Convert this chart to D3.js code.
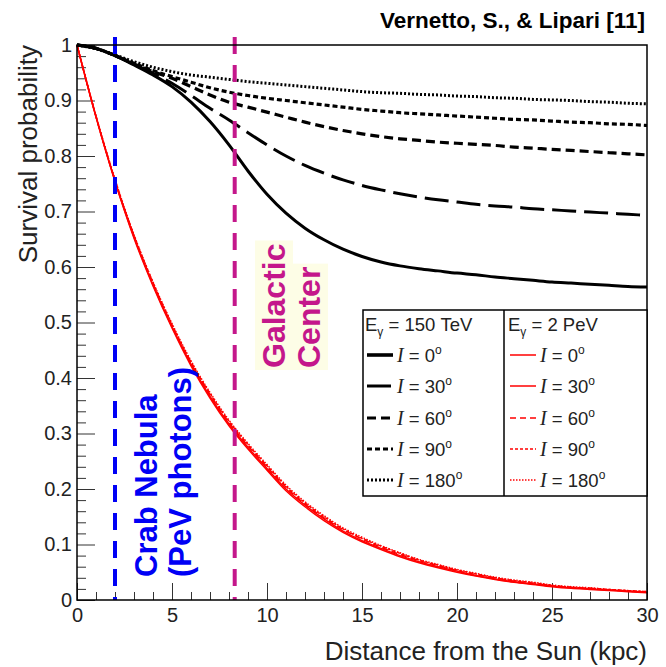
<!DOCTYPE html>
<html>
<head>
<meta charset="utf-8">
<script src="https://cdn.jsdelivr.net/npm/d3@7"></script>
<style>
  html, body { margin: 0; padding: 0; background: #fff; }
  svg { display: block; font-family: "Liberation Sans", Arial, Helvetica, sans-serif; }
</style>
</head>
<body>
<svg id="chart" width="666" height="667"></svg>
<script>
// ---- data ---------------------------------------------------------------
const distanceKpc = [0,1,2,3,4,5,6,7,8,9,10,11,12,13,14,15,16,17,18,19,20,21,22,23,24,25,26,27,28,29,30];

const inclinations = ["0", "30", "60", "90", "180"];

// Survival probability, E_gamma = 150 TeV
const surv150_I0   = [1.000,0.994,0.981,0.964,0.946,0.925,0.897,0.862,0.820,0.773,0.731,0.697,0.670,0.649,0.632,0.619,0.609,0.602,0.597,0.593,0.589,0.586,0.582,0.579,0.576,0.573,0.571,0.569,0.567,0.565,0.564];
const surv150_I30  = [1.000,0.994,0.981,0.965,0.949,0.931,0.909,0.886,0.865,0.842,0.820,0.800,0.783,0.769,0.757,0.747,0.739,0.732,0.726,0.721,0.717,0.713,0.710,0.708,0.705,0.703,0.701,0.699,0.697,0.695,0.693];
const surv150_I60  = [1.000,0.994,0.981,0.966,0.952,0.940,0.925,0.910,0.897,0.888,0.879,0.870,0.861,0.853,0.846,0.840,0.835,0.831,0.828,0.825,0.823,0.821,0.819,0.816,0.814,0.812,0.810,0.808,0.806,0.804,0.802];
const surv150_I90  = [1.000,0.994,0.981,0.967,0.954,0.943,0.933,0.923,0.915,0.909,0.904,0.900,0.896,0.892,0.888,0.884,0.881,0.878,0.876,0.874,0.872,0.870,0.868,0.866,0.865,0.863,0.861,0.860,0.858,0.857,0.855];
const surv150_I180 = [1.000,0.993,0.982,0.970,0.960,0.952,0.946,0.942,0.938,0.934,0.931,0.928,0.925,0.922,0.919,0.916,0.914,0.913,0.911,0.910,0.908,0.907,0.905,0.904,0.902,0.901,0.900,0.898,0.897,0.895,0.894];

// Survival probability, E_gamma = 2 PeV
const surv2P_I0   = [1.000,0.870,0.754,0.652,0.566,0.490,0.422,0.364,0.314,0.272,0.234,0.197,0.168,0.143,0.122,0.105,0.091,0.078,0.067,0.058,0.050,0.043,0.037,0.032,0.028,0.024,0.021,0.019,0.017,0.015,0.013];
const surv2P_I30  = [1.000,0.871,0.755,0.654,0.568,0.492,0.425,0.367,0.317,0.275,0.237,0.200,0.171,0.146,0.124,0.107,0.093,0.080,0.069,0.060,0.052,0.044,0.038,0.033,0.029,0.025,0.022,0.020,0.018,0.016,0.014];
const surv2P_I60  = [1.000,0.871,0.756,0.656,0.570,0.495,0.427,0.370,0.320,0.278,0.240,0.203,0.173,0.148,0.127,0.110,0.095,0.082,0.071,0.062,0.053,0.046,0.040,0.034,0.030,0.026,0.023,0.021,0.018,0.016,0.014];
const surv2P_I90  = [1.000,0.872,0.757,0.657,0.572,0.496,0.429,0.372,0.322,0.280,0.242,0.205,0.175,0.150,0.128,0.111,0.097,0.084,0.072,0.063,0.054,0.047,0.040,0.035,0.031,0.026,0.023,0.021,0.019,0.017,0.015];
const surv2P_I180 = [1.000,0.872,0.758,0.658,0.573,0.498,0.431,0.374,0.324,0.282,0.244,0.207,0.177,0.152,0.130,0.113,0.098,0.085,0.073,0.064,0.055,0.048,0.041,0.036,0.032,0.027,0.024,0.022,0.019,0.017,0.015];

// source distances (kpc)
const crabNebulaKpc = 2.0;
const galacticCenterKpc = 8.3;

// axes
const xMajorTicks = [0, 5, 10, 15, 20, 25, 30];
const xTickLabels = ["0", "5", "10", "15", "20", "25", "30"];
const yMajorTicks = [0, 0.1, 0.2, 0.3, 0.4, 0.5, 0.6, 0.7, 0.8, 0.9, 1];
const yTickLabels = ["0", "0.1", "0.2", "0.3", "0.4", "0.5", "0.6", "0.7", "0.8", "0.9", "1"];

// ---- layout & styles ----------------------------------------------------
const plot = { left: 77, right: 647, top: 45, bottom: 600 };
const svg = d3.select("#chart");

const x = d3.scaleLinear().domain([0, 30]).range([plot.left, plot.right]);
const y = d3.scaleLinear().domain([0, 1]).range([plot.bottom, plot.top]);

const blackStyles = {
  "0":   { dash: null,    width: 3 },
  "30":  { dash: "24 8",  width: 3 },
  "60":  { dash: "9 5",   width: 3.2 },
  "90":  { dash: "5 3",   width: 3.2 },
  "180": { dash: "2 2",   width: 3 }
};
const redStyles = {
  "0":   { dash: null,      width: 1.5 },
  "30":  { dash: null,      width: 1.5 },
  "60":  { dash: "6 4",     width: 1.5 },
  "90":  { dash: "3 2",     width: 1.5 },
  "180": { dash: "1.5 1.5", width: 1.5 }
};

const series150 = [surv150_I0, surv150_I30, surv150_I60, surv150_I90, surv150_I180];
const series2P  = [surv2P_I0, surv2P_I30, surv2P_I60, surv2P_I90, surv2P_I180];

const line = d3.line()
  .x(d => x(d[0]))
  .y(d => y(d[1]))
  .curve(d3.curveMonotoneX);

const pairs = vals => distanceKpc.map((d, i) => [d, vals[i]]);

// ---- axes (ticks point into the frame) ---------------------------------
const yMinor = d3.range(0, 51).map(i => i / 50).filter(v => !yMajorTicks.some(t => Math.abs(t - v) < 1e-9));
const xMinor = d3.range(0, 31).filter(v => v % 5 !== 0);

const yAxisMinor = d3.axisLeft(y).tickValues(yMinor).tickSize(-9).tickFormat("");
const yAxisMajor = d3.axisLeft(y).tickValues(yMajorTicks).tickSize(-18).tickPadding(5)
  .tickFormat((d, i) => yTickLabels[i]);
const xAxisMinor = d3.axisBottom(x).tickValues(xMinor).tickSize(-8).tickFormat("");
const xAxisMajor = d3.axisBottom(x).tickValues(xMajorTicks).tickSize(-17).tickPadding(8)
  .tickFormat((d, i) => xTickLabels[i]);

function styleAxis(g) {
  g.select(".domain").remove();
  g.selectAll(".tick line").attr("stroke", "#333").attr("stroke-width", 1);
  g.selectAll(".tick text").attr("fill", "#222").style("font-size", "20px")
    .style("font-family", '"Liberation Sans", Arial, sans-serif');
}

svg.append("g").attr("transform", `translate(${plot.left},0)`).call(yAxisMinor).call(styleAxis);
svg.append("g").attr("transform", `translate(${plot.left},0)`).call(yAxisMajor).call(styleAxis);
svg.append("g").attr("transform", `translate(0,${plot.bottom})`).call(xAxisMinor).call(styleAxis);
const xg = svg.append("g").attr("transform", `translate(0,${plot.bottom})`).call(xAxisMajor).call(styleAxis);
xg.selectAll(".tick text").attr("dy", null).attr("y", 22);

// ---- curves --------------------------------------------------------------
const curves = svg.append("g");
series2P.forEach((vals, i) => {
  const st = redStyles[inclinations[i]];
  curves.append("path")
    .attr("d", line(pairs(vals)))
    .attr("fill", "none")
    .attr("stroke", "#ff0000")
    .attr("stroke-width", st.width)
    .attr("stroke-dasharray", st.dash);
});
series150.forEach((vals, i) => {
  const st = blackStyles[inclinations[i]];
  curves.append("path")
    .attr("d", line(pairs(vals)))
    .attr("fill", "none")
    .attr("stroke", "#000")
    .attr("stroke-width", st.width)
    .attr("stroke-dasharray", st.dash);
});

// ---- source markers ------------------------------------------------------
const crabColor = "#0000f5";
const gcColor = "#c4178b";
[[crabNebulaKpc, crabColor], [galacticCenterKpc, gcColor]].forEach(([d, c]) => {
  svg.append("line")
    .attr("x1", x(d)).attr("x2", x(d))
    .attr("y1", plot.top - 8).attr("y2", plot.bottom)
    .attr("stroke", c).attr("stroke-width", 4)
    .attr("stroke-dasharray", "17 11");
});

// ---- frame ---------------------------------------------------------------
svg.append("rect")
  .attr("x", plot.left).attr("y", plot.top)
  .attr("width", plot.right - plot.left).attr("height", plot.bottom - plot.top)
  .attr("fill", "none").attr("stroke", "#000").attr("stroke-width", 1.5);

// ---- axis titles & heading ----------------------------------------------
svg.append("text")
  .attr("transform", `translate(37,${plot.top}) rotate(-90)`)
  .attr("text-anchor", "end")
  .attr("fill", "#222")
  .style("font-size", "26px")
  .text("Survival probability");

svg.append("text")
  .attr("x", plot.right).attr("y", 660)
  .attr("text-anchor", "end")
  .attr("fill", "#222")
  .style("font-size", "26px")
  .text("Distance from the Sun (kpc)");

svg.append("text")
  .attr("x", 645).attr("y", 28)
  .attr("text-anchor", "end")
  .attr("fill", "#000")
  .style("font-size", "22.5px").style("font-weight", "bold")
  .text("Vernetto, S., & Lipari [11]");

// ---- source labels -------------------------------------------------------
function rotatedLines(px, py, lines, size, color, spacing, bg) {
  const g = svg.append("g").attr("transform", `translate(${px},${py}) rotate(-90)`);
  lines.forEach((t, i) => {
    const txt = g.append("text")
      .attr("x", 0).attr("y", i * spacing)
      .attr("fill", color)
      .style("font-size", size + "px").style("font-weight", "bold")
      .text(t);
    if (bg) {
      const b = txt.node().getBBox();
      g.insert("rect", "text")
        .attr("x", b.x - 2).attr("y", b.y - 1)
        .attr("width", b.width + 5).attr("height", b.height + 2)
        .attr("fill", bg);
    }
  });
}
rotatedLines(285, 368, ["Galactic", "Center"], 32, gcColor, 35, "#fdfde6");
rotatedLines(157, 577, ["Crab Nebula", "(PeV photons)"], 31, crabColor, 34, null);

// ---- legend --------------------------------------------------------------
const leg = { x0: 363, x1: 647, mid: 504, y0: 310, y1: 496 };
const lg = svg.append("g");
lg.append("rect")
  .attr("x", leg.x0).attr("y", leg.y0)
  .attr("width", leg.x1 - leg.x0).attr("height", leg.y1 - leg.y0)
  .attr("fill", "#fff").attr("stroke", "#000").attr("stroke-width", 1.5);
lg.append("line")
  .attr("x1", leg.mid).attr("x2", leg.mid).attr("y1", leg.y0).attr("y2", leg.y1)
  .attr("stroke", "#000").attr("stroke-width", 1.5);

const legendColumns = [
  { x: 365, energy: "150 TeV", color: "#000", styles: blackStyles },
  { x: 508, energy: "2 PeV", color: "#ff0000", styles: redStyles }
];
const rowBaselines = [362, 393, 425, 456, 487];

legendColumns.forEach(col => {
  const head = lg.append("text")
    .attr("x", col.x).attr("y", 331)
    .attr("fill", "#222").style("font-size", "18.5px");
  head.append("tspan").text("E");
  head.append("tspan").attr("dy", 5).style("font-size", "12px").text("γ");
  head.append("tspan").attr("dy", -5).text(" = " + col.energy);

  inclinations.forEach((inc, i) => {
    const st = col.styles[inc];
    const yb = rowBaselines[i];
    lg.append("line")
      .attr("x1", col.x + 2).attr("x2", col.x + 28)
      .attr("y1", yb - 7).attr("y2", yb - 7)
      .attr("stroke", col.color)
      .attr("stroke-width", col.color === "#000" ? (i === 0 ? 3.6 : st.width) : st.width)
      .attr("stroke-dasharray", st.dash);
    const t = lg.append("text")
      .attr("x", col.x + 32).attr("y", yb)
      .attr("fill", "#222").style("font-size", "18.5px");
    t.append("tspan")
      .style("font-style", "italic")
      .style("font-family", '"Liberation Serif", "Times New Roman", serif')
      .style("font-size", "20px")
      .text("I");
    t.append("tspan").text(" = " + inc);
    t.append("tspan").attr("dy", -8).style("font-size", "12px").text("o");
  });
});
</script>
</body>
</html>
